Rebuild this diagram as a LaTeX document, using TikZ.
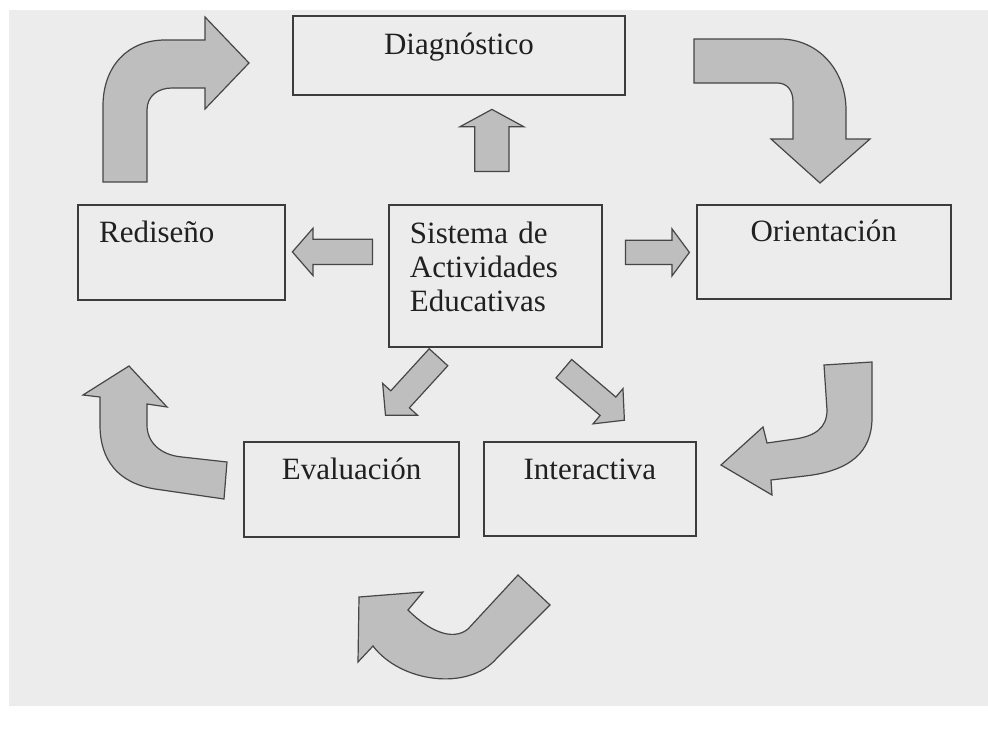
\documentclass[tikz,border=0pt]{standalone}
\usepackage{fontspec}
\setmainfont{Liberation Serif}
\usepackage{tikz}
\usetikzlibrary{positioning,shapes.arrows}

\definecolor{paper}{RGB}{236,236,236}
\definecolor{boxline}{RGB}{60,60,60}
\definecolor{arrowfill}{RGB}{190,190,190}
\definecolor{arrowline}{RGB}{70,70,70}
\definecolor{ink}{RGB}{32,32,32}

\tikzset{
  box/.style={draw=boxline, line width=1.8pt, fill=paper, text=ink,
    font=\fontsize{31}{34}\selectfont, inner sep=0pt},
  blockarrow/.style={single arrow, draw=arrowline, fill=arrowfill,
    line width=1.2pt, inner sep=0pt, anchor=tail},
  bentarrow/.style={draw=arrowline, fill=arrowfill, line width=1.2pt}
}

\begin{document}
\begin{tikzpicture}[x=1pt,y=-1pt]
    \useasboundingbox (0,0) rectangle (988,731);
    \fill[white] (0,0) rectangle (988,731);
    \fill[paper] (9,10) rectangle (988,706);

    % boxes
    \node[box, anchor=north west, text width=171pt, inner xsep=21pt, align=left,
      minimum height=142pt] (sis) at (388,204)
      {Sistema de\\Actividades\\Educativas\rule[-19pt]{0pt}{0pt}};
    \node[box, above=108pt of sis.north, xshift=-36.5pt, minimum width=332pt,
      text height=38pt, text depth=41pt] (diag) {Diagnóstico};
    \node[box, left=102pt of sis.north west, anchor=north east, text width=165pt,
      inner xsep=21pt, align=left, text height=38pt, text depth=57pt] (redis) {Rediseño};
    \node[box, right=93pt of sis.north east, anchor=north west, minimum width=254pt,
      text height=37pt, text depth=57pt] (orient) {Orientación};
    \node[box, below=93pt of sis.south west, anchor=north west, xshift=95pt,
      minimum width=212pt, text height=38pt, text depth=56pt] (inter) {Interactiva};
    \node[box, left=23pt of inter.north west, anchor=north east, minimum width=215pt,
      text height=38pt, text depth=57pt] (eval) {Evaluación};

    % straight arrows out of the centre
    \node[blockarrow, rotate=90, minimum height=62pt, inner ysep=16.5pt,
      single arrow head extend=15pt, single arrow tip angle=123]
      (a1) at ([xshift=-3.5pt,yshift=32pt]sis.north) {};
    \node[blockarrow, rotate=180, minimum height=80pt, inner ysep=12pt,
      single arrow head extend=11pt, single arrow tip angle=98]
      (a2) at ([xshift=-15pt,yshift=24pt]sis.west) {};
    \node[blockarrow, minimum height=64pt, inner ysep=11.5pt,
      single arrow head extend=11.5pt, single arrow tip angle=107]
      (a3) at ([xshift=22pt,yshift=23.5pt]sis.east) {};
    \node[blockarrow, rotate=-132.4, minimum height=78.6pt, inner ysep=12pt,
      single arrow head extend=11pt, single arrow tip angle=95]
      (a4) at ([xshift=-56.5pt,yshift=-9pt]sis.south) {};
    \node[blockarrow, rotate=-40.4, minimum height=79.5pt, inner ysep=11.5pt,
      single arrow head extend=11pt, single arrow tip angle=94]
      (a5) at ([xshift=68pt,yshift=-20.5pt]sis.south) {};

    % bent arrows round the cycle
    \draw[bentarrow] (103,182) -- (103,106) .. controls (103,66) and (128,40) .. (165,40)
      -- (205,40) -- (205,17) -- (249,63) -- (205,109) -- (205,88) -- (172,88)
      .. controls (158,88) and (147,96) .. (147,110) -- (147,182) -- cycle;
    \draw[bentarrow] (694,39) -- (780,39) .. controls (818,39) and (846,70) .. (846,110)
      -- (846,139) -- (870,139) -- (820,183) -- (771,139) -- (793,139) -- (793,102)
      .. controls (793,90) and (787,83) .. (777,83) -- (694,83) -- cycle;
    \draw[bentarrow] (824,365) -- (872,362) -- (872,418)
      .. controls (872,452) and (850,471) .. (805,476) -- (771,480) -- (772,495)
      -- (721,465) -- (763,427) -- (767,443) -- (795,439)
      .. controls (815,436) and (827,428) .. (827,410) -- cycle;
    \draw[bentarrow] (518,575) -- (550,605) -- (497,658)
      .. controls (468,692) and (400,682) .. (373,646) -- (358,662) -- (359,597)
      -- (423,592) -- (408,610) .. controls (428,630) and (452,642) .. (468,629) -- cycle;
    \draw[bentarrow] (227,462) -- (224,499) -- (155,489)
      .. controls (118,483) and (100,460) .. (100,425) -- (100,397) -- (83,395)
      -- (129,366) -- (167,407) -- (147,404) -- (147,425)
      .. controls (147,442) and (160,455) .. (182,457) -- cycle;
\end{tikzpicture}
\end{document}
